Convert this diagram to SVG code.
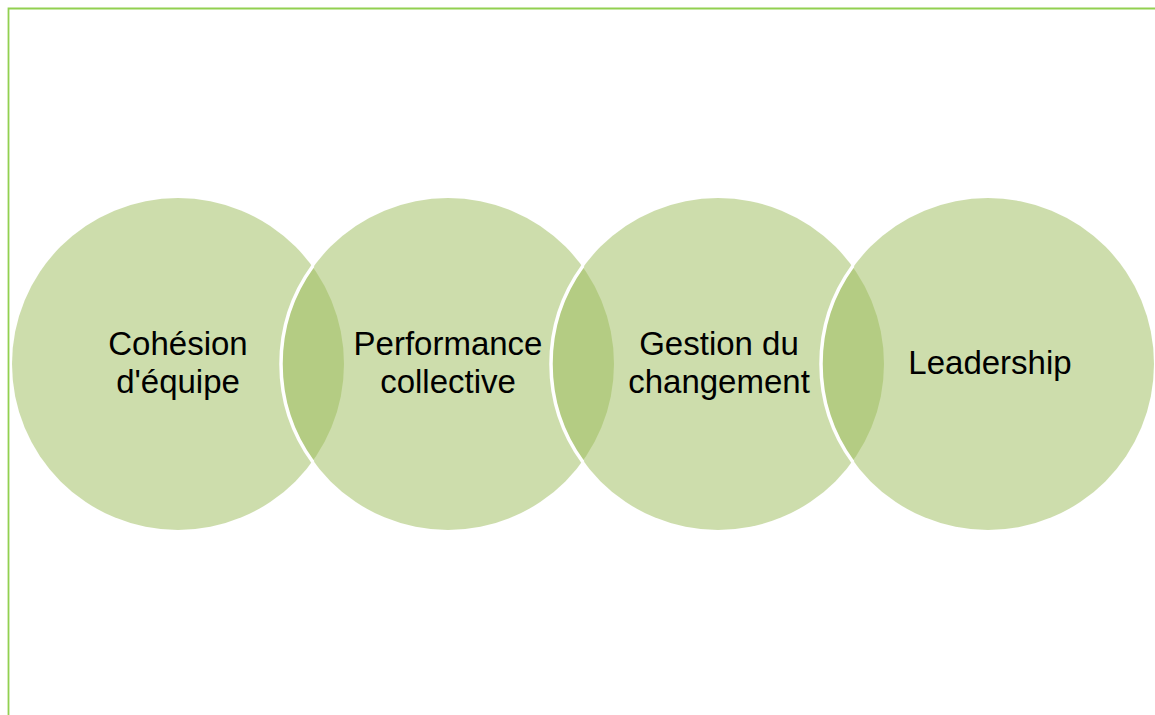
<svg xmlns="http://www.w3.org/2000/svg" width="1155" height="715" viewBox="0 0 1155 715">
<style>
.c{fill:#9BBB59;fill-opacity:0.5;stroke:none}
.w{fill:none;stroke:#FFFFFF;stroke-width:3.5}
.t{font-family:"Liberation Sans",Arial,sans-serif;font-size:33px;fill:#000000;text-anchor:middle}
.b{stroke:#92D050;stroke-width:1.8;fill:none}
</style>
<rect width="1155" height="715" fill="#FFFFFF"/>
<g id="border">
<path class="b" d="M8.5 715 V8.5 H1155"/>
</g>
<g id="connectors"></g>
<g id="node1">
<circle class="c" cx="178" cy="364" r="166"/>
<text class="t" x="178" y="355">Cohésion</text>
<text class="t" x="178" y="393">d'équipe</text>
</g>
<g id="node2">
<circle class="c" cx="448" cy="364" r="166"/>
<path class="w" d="M313 265.7 A167 167 0 0 0 313 462.3"/>
<text class="t" x="448" y="355">Performance</text>
<text class="t" x="448" y="393">collective</text>
</g>
<g id="node3">
<circle class="c" cx="718" cy="364" r="166"/>
<path class="w" d="M583 265.7 A167 167 0 0 0 583 462.3"/>
<text class="t" x="719" y="355">Gestion du</text>
<text class="t" x="719" y="393">changement</text>
</g>
<g id="node4">
<circle class="c" cx="988" cy="364" r="166"/>
<path class="w" d="M853 265.7 A167 167 0 0 0 853 462.3"/>
<text class="t" x="990" y="374">Leadership</text>
</g>
</svg>
